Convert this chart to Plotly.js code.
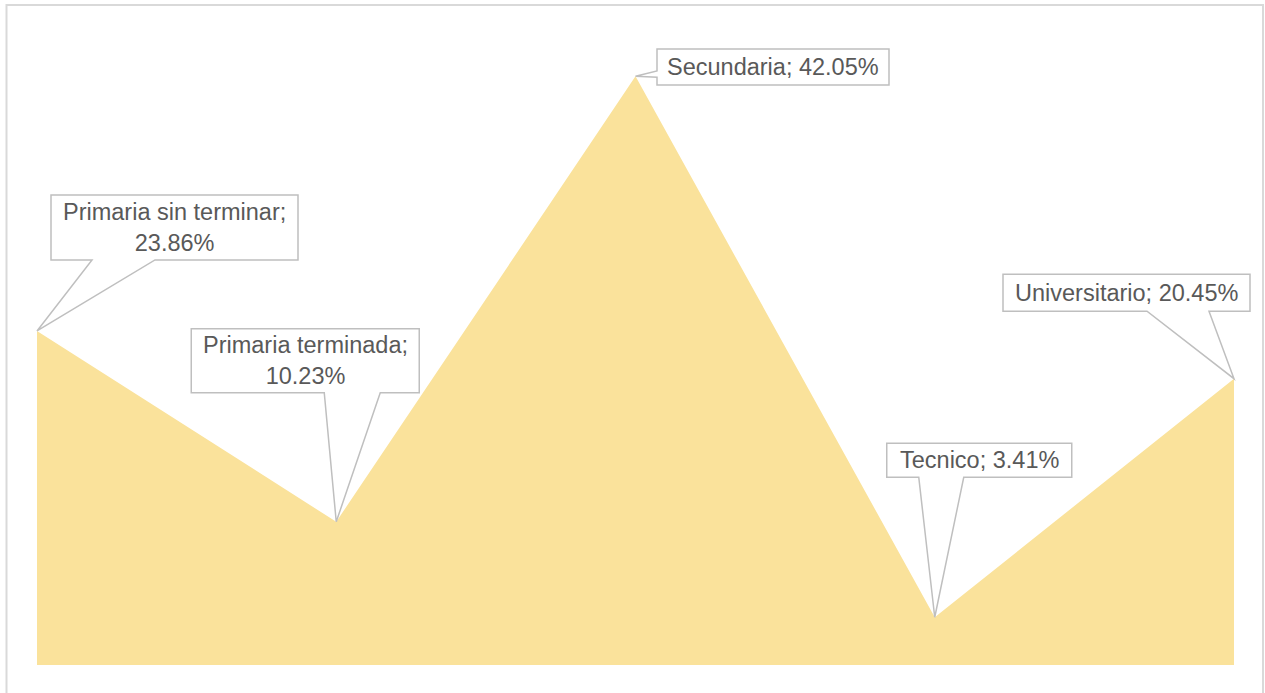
<!DOCTYPE html>
<html>
<head>
<meta charset="utf-8">
<script src="https://cdn.plot.ly/plotly-3.0.1.min.js"></script>
<style>
html,body{margin:0;padding:0;background:#fff;}
#chart{width:1265px;height:693px;}
</style>
</head>
<body>
<div id="chart"></div>
<script>
// ---- data ----
var categories = ["Primaria sin terminar", "Primaria terminada", "Secundaria", "Tecnico", "Universitario"];
var values = [23.86, 10.23, 42.05, 3.41, 20.45];
var labelBreaks = [true, true, false, false, false];

// ---- callout geometry (pixel offsets relative to the data point, screen y down) ----
var callouts = [
  {box:[14, 261, -136, -71], side:"bottom", wedge:[55, 118]},
  {box:[-145, 83, -193, -129], side:"bottom", wedge:[-12, 44]},
  {box:[21.5, 253.5, -27.3, 8.7], side:"left", wedge:[-5.3, 1]},
  {box:[-48, 137, -174, -140], side:"bottom", wedge:[-16, 29]},
  {box:[-231, 16, -104.5, -67.5], side:"bottom", wedge:[-87, -25]}
];

function pt(x, y) { return x + "," + (-y); }

function calloutPath(c) {
  var L = c.box[0], R = c.box[1], T = c.box[2], B = c.box[3];
  if (c.side === "bottom") {
    return "M" + pt(L, T) + " L" + pt(R, T) + " L" + pt(R, B) + " L" + pt(c.wedge[1], B) +
        " L" + pt(0, 0) + " L" + pt(c.wedge[0], B) + " L" + pt(L, B) + " Z";
  }
  return "M" + pt(L, T) + " L" + pt(R, T) + " L" + pt(R, B) + " L" + pt(L, B) +
      " L" + pt(L, c.wedge[1]) + " L" + pt(0, 0) + " L" + pt(L, c.wedge[0]) + " Z";
}

var shapes = [];
var annotations = [];
for (var i = 0; i < categories.length; i++) {
  var c = callouts[i];
  shapes.push({
    type: "path", xref: "x", yref: "y",
    xsizemode: "pixel", ysizemode: "pixel",
    xanchor: i, yanchor: values[i],
    path: calloutPath(c),
    fillcolor: "#ffffff",
    line: {color: "#bfbfbf", width: 1.5}
  });
  var txt = categories[i] + ";" + (labelBreaks[i] ? "<br>" : " ") + values[i].toFixed(2) + "%";
  annotations.push({
    x: i, y: values[i], xref: "x", yref: "y",
    text: txt, showarrow: false,
    xanchor: "center", yanchor: "middle",
    xshift: (c.box[0] + c.box[1]) / 2,
    yshift: -(c.box[2] + c.box[3]) / 2,
    font: {family: "Liberation Sans, Arial, sans-serif", size: 23.5, color: "#595959"},
    align: "center"
  });
}

// outer chart border
shapes.push({
  type: "rect", xref: "paper", yref: "paper",
  x0: 6.5 / 1265, x1: 1263 / 1265, y0: -0.05, y1: 688 / 693,
  line: {color: "#d9d9d9", width: 2}, fillcolor: "rgba(0,0,0,0)", layer: "below"
});

var trace = {
  x: categories,
  y: values,
  type: "scatter",
  mode: "lines",
  fill: "tozeroy",
  fillcolor: "#FAE29B",
  line: {color: "#FAE29B", width: 0},
  hoverinfo: "skip"
};

// plot area spans whole figure; ranges set so points land as in reference
var xUnit = (1234 - 37) / 4;
var yUnit = 14.0;
var layout = {
  width: 1265, height: 693,
  margin: {l: 0, r: 0, t: 0, b: 0, pad: 0},
  paper_bgcolor: "#ffffff", plot_bgcolor: "#ffffff",
  showlegend: false,
  xaxis: {type: "category", range: [-37 / xUnit, 4 + 31 / xUnit], showgrid: false, zeroline: false, showticklabels: false, showline: false, ticks: ""},
  yaxis: {range: [-28 / yUnit, 665 / yUnit], showgrid: false, zeroline: false, showticklabels: false, showline: false, ticks: ""},
  shapes: shapes,
  annotations: annotations
};

Plotly.newPlot("chart", [trace], layout, {displayModeBar: false, staticPlot: true});
</script>
</body>
</html>
